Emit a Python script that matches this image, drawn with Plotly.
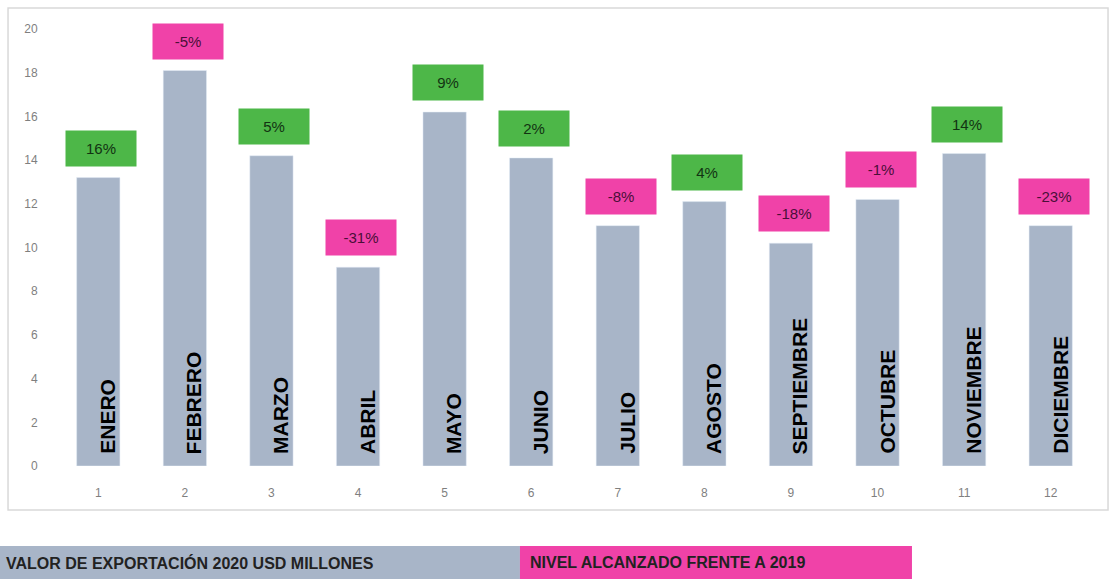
import plotly.graph_objects as go

months = [1, 2, 3, 4, 5, 6, 7, 8, 9, 10, 11, 12]
month_names = ["ENERO", "FEBRERO", "MARZO", "ABRIL", "MAYO", "JUNIO", "JULIO",
               "AGOSTO", "SEPTIEMBRE", "OCTUBRE", "NOVIEMBRE", "DICIEMBRE"]
export_values = [13.2, 18.1, 14.2, 9.1, 16.2, 14.1, 11.0, 12.1, 10.2, 12.2, 14.3, 11.0]
change_pct = [16, -5, 5, -31, 9, 2, -8, 4, -18, -1, 14, -23]

BAR = "#A8B5C8"
GREEN = "#4DB748"
PINK = "#F042A8"

fig = go.Figure()
fig.add_trace(go.Bar(x=months, y=export_values, marker_color=BAR, width=0.5,
                     hoverinfo="skip", showlegend=False))

ann = []
for m, name, v, p in zip(months, month_names, export_values, change_pct):
    pos = p >= 0
    ann.append(dict(x=m, y=v, xref="x", yref="y", text=f"{p}%", showarrow=False,
                    yanchor="bottom", yshift=11, xshift=3,
                    bgcolor=GREEN if pos else PINK, width=68, height=33,
                    font=dict(family="Liberation Sans", size=15,
                              color="#123312" if pos else "#4a0f38")))
    ann.append(dict(x=m, y=0, xref="x", yref="y", text=f"<b>{name}</b>", showarrow=False,
                    textangle=-90, yanchor="bottom", xanchor="center", yshift=10, xshift=9,
                    font=dict(family="Liberation Sans", size=21, color="#000000")))

# legend bands
ann.append(dict(x=-0.049, y=-0.221, xref="paper", yref="paper", xanchor="left", yanchor="middle",
                text="<b>VALOR DE EXPORTACIÓN 2020 USD MILLONES</b>", showarrow=False,
                font=dict(family="Liberation Sans", size=16, color="#222222")))
ann.append(dict(x=0.455, y=-0.221, xref="paper", yref="paper", xanchor="left", yanchor="middle",
                text="<b>NIVEL ALCANZADO FRENTE A 2019</b>", showarrow=False,
                font=dict(family="Liberation Sans", size=16, color="#222222")))

shapes = [
    dict(type="rect", xref="paper", yref="paper", x0=-0.0452, x1=1.0135, y0=-0.1007, y1=1.048,
         line=dict(color="#D9D9D9", width=1.5), fillcolor="rgba(0,0,0,0)", layer="below"),
    dict(type="rect", xref="paper", yref="paper", x0=-0.06, x1=0.4475, y0=-0.2586, y1=-0.183,
         line=dict(width=0), fillcolor=BAR, layer="below"),
    dict(type="rect", xref="paper", yref="paper", x0=0.4475, x1=0.8248, y0=-0.2586, y1=-0.183,
         line=dict(width=0), fillcolor=PINK, layer="below"),
]

fig.update_layout(
    width=1110, height=579,
    margin=dict(l=55, r=16, t=29, b=113),
    paper_bgcolor="white", plot_bgcolor="white",
    annotations=ann, shapes=shapes,
    xaxis=dict(range=[0.5, 12.5], tickmode="array", tickvals=months,
               ticktext=[str(m) for m in months], showgrid=False, zeroline=False,
               showline=False, ticks="outside", ticklen=16, tickcolor="rgba(0,0,0,0)",
               tickfont=dict(family="Liberation Sans", size=12, color="#7F7F7F")),
    yaxis=dict(range=[0, 20], tickmode="array", tickvals=list(range(0, 21, 2)),
               showgrid=False, zeroline=False, showline=False,
               ticks="outside", ticklen=14, tickcolor="rgba(0,0,0,0)",
               tickfont=dict(family="Liberation Sans", size=12, color="#7F7F7F")),
)

fig.write_html("out.html")
